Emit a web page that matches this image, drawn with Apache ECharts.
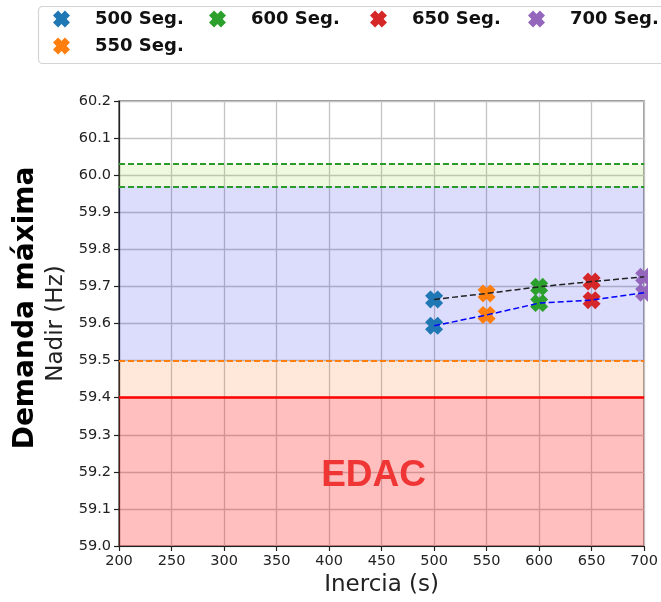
<!DOCTYPE html>
<html>
<head>
<meta charset="utf-8">
<script src="https://cdn.jsdelivr.net/npm/echarts@6/dist/echarts.min.js"></script>
<style>html,body{margin:0;padding:0;background:#fff}#c{width:661px;height:602px}</style>
</head>
<body>
<div id="c"></div>
<script>
// ---- data ----
var inertia = [500, 550, 600, 650, 700];
var seriesNames = ['500 Seg.', '550 Seg.', '600 Seg.', '650 Seg.', '700 Seg.'];
var upperNadir = [59.665, 59.681, 59.699, 59.713, 59.726];
var lowerNadir = [59.594, 59.623, 59.655, 59.663, 59.683];
var xTicks = [200, 250, 300, 350, 400, 450, 500, 550, 600, 650, 700];
var yTicks = [59.0, 59.1, 59.2, 59.3, 59.4, 59.5, 59.6, 59.7, 59.8, 59.9, 60.0, 60.1, 60.2];
var greenBand = [59.97, 60.03];
var alertBand = [59.5, 59.97];
var orangeBand = [59.4, 59.5];
var edacBand = [59.0, 59.4];

var colors = ['#1f77b4', '#ff7f0e', '#2ca02c', '#d62728', '#9467bd'];
var xPath = 'path://M3 0L5 2L7 0L10 3L8 5L10 7L7 10L5 8L3 10L0 7L2 5L0 3Z';

var chart = echarts.init(document.getElementById('c'), null, {renderer: 'canvas'});

var series = [];
series.push({
  type: 'line', name: 'bands', data: [], silent: true, z: 1,
  markArea: {
    silent: true,
    data: [
      [{yAxis: greenBand[0], itemStyle: {color: 'rgba(142,215,48,0.15)'}}, {yAxis: greenBand[1]}],
      [{yAxis: alertBand[0], itemStyle: {color: 'rgba(5,5,234,0.14)'}}, {yAxis: alertBand[1]}],
      [{yAxis: orangeBand[0], itemStyle: {color: 'rgba(255,102,8,0.15)'}}, {yAxis: orangeBand[1]}],
      [{yAxis: edacBand[0], itemStyle: {color: 'rgba(255,0,0,0.25)'},
        label: {show: true, position: 'inside', formatter: 'EDAC', offset: [-8, 4],
          color: '#f03535', fontSize: 37, fontWeight: 'bold', fontFamily: 'Liberation Sans'}},
       {yAxis: edacBand[1]}]
    ]
  },
  markLine: {
    silent: true, symbol: 'none', label: {show: false},
    data: [
      {yAxis: greenBand[1], lineStyle: {color: '#2a9a2a', width: 2, type: [6, 3]}},
      {yAxis: greenBand[0], lineStyle: {color: '#2a9a2a', width: 2, type: [6, 3]}},
      {yAxis: orangeBand[1], lineStyle: {color: '#ff7f0e', width: 2, type: [6, 3]}},
      {yAxis: edacBand[1], lineStyle: {color: '#ff0000', width: 2.5, type: 'solid'}}
    ]
  }
});

for (var i = 0; i < inertia.length; i++) {
  series.push({
    type: 'scatter', name: seriesNames[i], symbol: xPath, symbolSize: 18, z: 3,
    itemStyle: {color: colors[i], opacity: 1},
    data: [[inertia[i], upperNadir[i]], [inertia[i], lowerNadir[i]]]
  });
}
series.push({
  type: 'line', name: 'upper', data: inertia.map(function (x, k) { return [x, upperNadir[k]]; }),
  symbol: 'none', z: 4, lineStyle: {color: '#222', width: 1.5, type: [6, 3]}
});
series.push({
  type: 'line', name: 'lower', data: inertia.map(function (x, k) { return [x, lowerNadir[k]]; }),
  symbol: 'none', z: 4, lineStyle: {color: '#0000ff', width: 1.5, type: [6, 3]}
});

var legendPos = [
  {name: '500 Seg.', left: 53, top: 10},
  {name: '550 Seg.', left: 53, top: 37},
  {name: '600 Seg.', left: 209, top: 10},
  {name: '650 Seg.', left: 370, top: 10},
  {name: '700 Seg.', left: 528, top: 10}
];
var legends = legendPos.map(function (p) {
  return {
    data: [{name: p.name, icon: xPath}], left: p.left, top: p.top, padding: 0,
    itemWidth: 17, itemHeight: 17, selectedMode: false,
    textStyle: {fontFamily: 'DejaVu Sans', fontWeight: 'bold', fontSize: 18, color: '#111', padding: [0, 0, 0, 20]}
  };
});

var tickFont = {fontFamily: 'DejaVu Sans', fontSize: 14.5, color: '#222'};

chart.setOption({
  animation: false,
  backgroundColor: '#fff',
  grid: {left: 119, right: 14, top: 101, bottom: 56, show: true, borderColor: '#222', borderWidth: 1.2, backgroundColor: 'transparent'},
  legend: legends,
  xAxis: {
    type: 'value', min: xTicks[0], max: xTicks[xTicks.length - 1], interval: 50,
    name: 'Inercia (s)', nameLocation: 'middle', nameGap: 27,
    nameTextStyle: {fontFamily: 'DejaVu Sans', fontSize: 23, color: '#222'},
    axisLine: {show: true, lineStyle: {color: '#222', width: 1.2}},
    axisTick: {show: true, length: 5, lineStyle: {color: '#222', width: 1.2}},
    axisLabel: Object.assign({margin: 8}, tickFont),
    splitLine: {show: true, lineStyle: {color: '#c4c4c4', width: 1.3}}
  },
  yAxis: {
    type: 'value', min: yTicks[0], max: yTicks[yTicks.length - 1], interval: 0.1,
    name: 'Nadir (Hz)', nameLocation: 'middle', nameGap: 50,
    nameTextStyle: {fontFamily: 'DejaVu Sans', fontSize: 23, color: '#222'},
    axisLine: {show: true, lineStyle: {color: '#222', width: 1.2}},
    axisTick: {show: true, length: 5, lineStyle: {color: '#222', width: 1.2}},
    axisLabel: Object.assign({margin: 8, formatter: function (v) { return v.toFixed(1); }}, tickFont),
    splitLine: {show: true, lineStyle: {color: '#c4c4c4', width: 1.3}}
  },
  graphic: [
    {type: 'rect', z: -10, shape: {x: 38.5, y: 6.5, width: 640, height: 57, r: 4},
     style: {fill: '#fff', stroke: '#d4d4d4', lineWidth: 1.2}},
    {type: 'rect', z: 100, shape: {x: 648, y: 88, width: 13, height: 459}, style: {fill: '#fff'}},
    {type: 'text', z: 100, x: 26, y: 308, rotation: Math.PI / 2,
     style: {text: 'Demanda máxima', fontFamily: 'DejaVu Sans', fontWeight: 'bold', fontSize: 28,
       fill: '#000', align: 'center', verticalAlign: 'middle'}}
  ],
  series: series
});
</script>
</body>
</html>
